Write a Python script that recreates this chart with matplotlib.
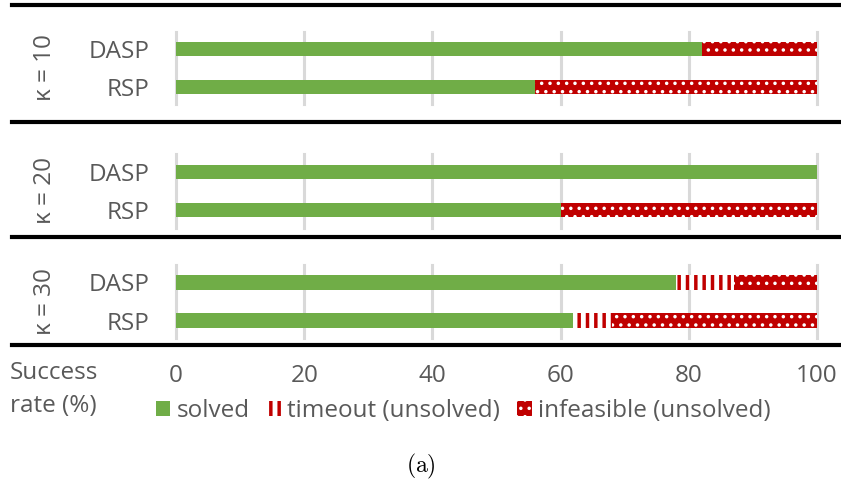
import matplotlib
matplotlib.use("Agg")
import matplotlib.pyplot as plt
from matplotlib.patches import Patch
from matplotlib.lines import Line2D
import numpy as np

plt.rcParams["font.family"] = ["Open Sans", "DejaVu Sans"]
plt.rcParams["mathtext.fontset"] = "cm"

# data (success rate %, per panel: DASP, RSP)
panels = ["\u03ba = 10", "\u03ba = 20", "\u03ba = 30"]
methods = ["DASP", "RSP"]
solved = [[82, 56], [100, 60], [78, 62]]
timeout = [[0, 0], [0, 0], [9, 6]]
infeasible = [[18, 44], [0, 40], [13, 32]]
xticks = [0, 20, 40, 60, 80, 100]

GREEN = "#70AD47"
RED = "#C00000"
GRAY = "#595959"
GRID = "#D9D9D9"
FS = 17.5

W, H = 841, 487
fig = plt.figure(figsize=(W / 100, H / 100), dpi=100)

# axes boxes in pixels (top, bottom)
boxes = [(32, 104), (154, 228), (265, 338)]
left, right = 176, 817
seps = [5, 122, 237, 345]


def hatch_lw(artist, lw):
    # hatch width is read when drawing, so wrap draw
    if hasattr(artist, "set_hatch_linewidth"):
        artist.set_hatch_linewidth(lw)
    orig = artist.draw

    def draw(renderer, *args, **kw):
        with plt.rc_context({"hatch.linewidth": lw}):
            return orig(renderer, *args, **kw)
    artist.draw = draw


def style_bar(b, kind):
    if kind == "timeout":
        b.set_facecolor("white")
        b.set_edgecolor(RED)
        b.set_hatch("||")
        hatch_lw(b, 2.5)
    else:
        b.set_facecolor(RED)
        b.set_edgecolor("white")
        b.set_hatch("..")
        hatch_lw(b, 1.3)
    b.set_linewidth(0)


for i, (top, bot) in enumerate(boxes):
    ax = fig.add_axes([left / W, 1 - bot / H, (right - left) / W, (bot - top) / H])
    y = np.arange(len(methods))
    s = np.array(solved[i])
    t = np.array(timeout[i])
    f = np.array(infeasible[i])
    ax.barh(y, s, height=0.37, color=GREEN, zorder=2)
    for b in ax.barh(y, t, left=s, height=0.37, zorder=2):
        style_bar(b, "timeout")
    for b in ax.barh(y, f, left=s + t, height=0.37, zorder=2):
        style_bar(b, "infeasible")

    ax.set_xlim(0, 100)
    ax.set_ylim(1.46, -0.46)
    ax.set_yticks(y)
    ax.set_yticklabels(methods, fontsize=FS, color=GRAY)
    ax.set_xticks(xticks)
    ax.tick_params(axis="both", length=0)
    ax.tick_params(axis="y", pad=19)
    for sp in ax.spines.values():
        sp.set_visible(False)
    ax.grid(axis="x", color=GRID, lw=2.2, zorder=0)
    ax.set_axisbelow(True)
    for gl in ax.get_xgridlines():
        gl.set_clip_on(False)
    if i < 2:
        ax.set_xticklabels([])
    else:
        ax.set_xticklabels([str(v) for v in xticks], fontsize=FS, color=GRAY)
        ax.tick_params(axis="x", pad=19)

    ax.text(-0.205, 0.5, panels[i], transform=ax.transAxes, rotation=90,
            ha="center", va="center", fontsize=FS, color=GRAY)

for yy in seps:
    fig.add_artist(Line2D([12 / W, 1], [1 - yy / H, 1 - yy / H],
                          color="black", lw=3, transform=fig.transFigure))

fig.text(10 / W, 1 - 361 / H, "Success\nrate (%)", fontsize=FS, color=GRAY,
         ha="left", va="top", linespacing=1.5)

h_solved = Patch(facecolor=GREEN, edgecolor=GREEN, lw=0)
h_timeout = Patch(facecolor="white", edgecolor=RED, lw=0, hatch="||")
h_inf = Patch(facecolor=RED, edgecolor="white", lw=0, hatch="..")
leg = fig.legend([h_solved, h_timeout, h_inf],
                 ["solved", "timeout (unsolved)", "infeasible (unsolved)"],
                 loc="center", bbox_to_anchor=(463 / W, 1 - 411 / H),
                 ncol=3, frameon=False, fontsize=FS, handlelength=0.6,
                 handleheight=0.6, handletextpad=0.25, columnspacing=0.7,
                 labelcolor=GRAY)
for p, w in zip(leg.get_patches(), [1.0, 2.5, 1.3]):
    hatch_lw(p, w)

fig.text(0.5, 1 - 466 / H, r"$\mathrm{(a)}$", fontsize=17, ha="center",
         va="center", color="black")

fig.savefig("out.png", dpi=100)
